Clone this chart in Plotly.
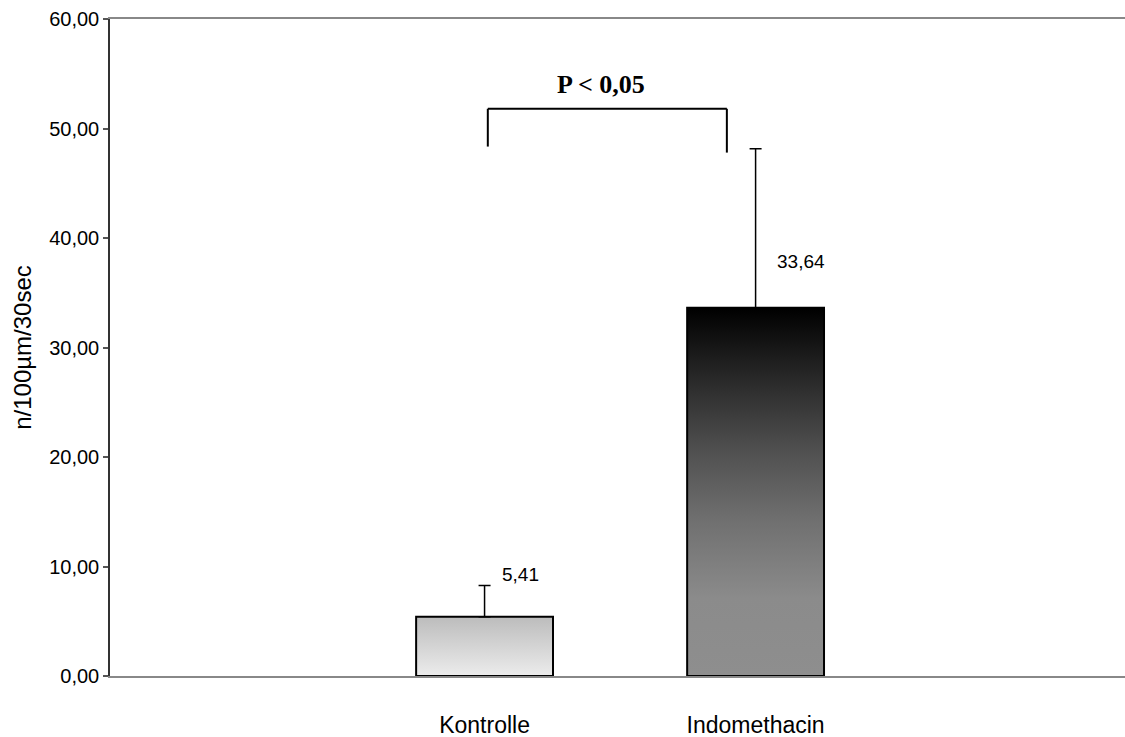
import plotly.graph_objects as go

# Group means, upper SD and labels
categories = ["Kontrolle", "Indomethacin"]
means = [5.41, 33.64]
sd_upper = [2.85, 14.5]
value_labels = ["5,41", "33,64"]
y_ticks = [0, 10, 20, 30, 40, 50, 60]

BAR_W = 0.505
FONT = "Liberation Sans, Arial, sans-serif"

# Vertical gradients (0 = bar bottom, 1 = bar top)
gradients = [
    [[0.0, "#ececec"], [1.0, "#bcbcbc"]],
    [[0.0, "#8e8e8e"], [0.21, "#8b8b8b"], [0.42, "#707070"],
     [0.61, "#505050"], [0.80, "#2a2a2a"], [1.0, "#000000"]],
]

fig = go.Figure()

for i, (m, cs) in enumerate(zip(means, gradients)):
    x0, x1 = i - BAR_W / 2, i + BAR_W / 2
    fig.add_trace(go.Scatter(
        x=[x0, x1, x1, x0, x0],
        y=[0, 0, m, m, 0],
        mode="lines",
        fill="toself",
        fillgradient=dict(type="vertical", colorscale=cs, start=0, stop=m),
        line=dict(color="#000000", width=2),
        hoverinfo="skip",
        showlegend=False,
    ))

# Upper error bars
fig.add_trace(go.Scatter(
    x=list(range(len(means))),
    y=means,
    mode="markers",
    marker=dict(size=0.1, color="rgba(0,0,0,0)"),
    error_y=dict(type="data", array=sd_upper, arrayminus=[0] * len(means),
                 symmetric=False, color="#000000", thickness=1.5, width=6),
    showlegend=False,
    hoverinfo="skip",
))

# Value labels beside the error bars
label_shifts = [(36, 42), (45, 46)]
for i, (m, txt) in enumerate(zip(means, value_labels)):
    dx, dy = label_shifts[i]
    fig.add_annotation(x=i, y=m, text=txt, showarrow=False,
                       xshift=dx, yshift=dy,
                       font=dict(family=FONT, size=19, color="#000000"))

# Significance bracket
fig.add_shape(type="line", x0=0.012, x1=0.012, y0=48.35, y1=51.8,
              line=dict(color="#000000", width=2))
fig.add_shape(type="line", x0=0.012, x1=0.894, y0=51.8, y1=51.8,
              line=dict(color="#000000", width=2))
fig.add_shape(type="line", x0=0.894, x1=0.894, y0=51.8, y1=47.8,
              line=dict(color="#000000", width=2))
fig.add_annotation(x=0.43, y=51.8, yshift=24, text="<b>P &lt; 0,05</b>",
                   showarrow=False,
                   font=dict(family="Liberation Serif, Times New Roman, serif",
                             size=26, color="#000000"))

fig.update_layout(
    width=1125, height=737,
    margin=dict(l=110, r=0, t=19, b=61),
    plot_bgcolor="#ffffff", paper_bgcolor="#ffffff",
    separators=",.",
    font=dict(family=FONT, size=20, color="#000000"),
    xaxis=dict(
        range=[-1.382, 2.363],
        tickmode="array", tickvals=list(range(len(categories))),
        ticktext=categories, ticks="", ticklabelstandoff=27,
        tickfont=dict(family=FONT, size=23),
        showline=True, linecolor="#888888", linewidth=2, mirror=True,
        showgrid=False, zeroline=False, fixedrange=True,
    ),
    yaxis=dict(
        range=[0, 60], tickmode="array", tickvals=y_ticks,
        tickformat=".2f", ticks="outside", ticklen=5, tickcolor="#555555",
        tickwidth=1.5, tickfont=dict(family=FONT, size=20),
        showline=True, linecolor="#333333", linewidth=1.5,
        showgrid=False, zeroline=False, fixedrange=True,
        title=dict(text="n/100µm/30sec", standoff=11,
                   font=dict(family=FONT, size=24)),
    ),
)

fig.write_html("out.html")
